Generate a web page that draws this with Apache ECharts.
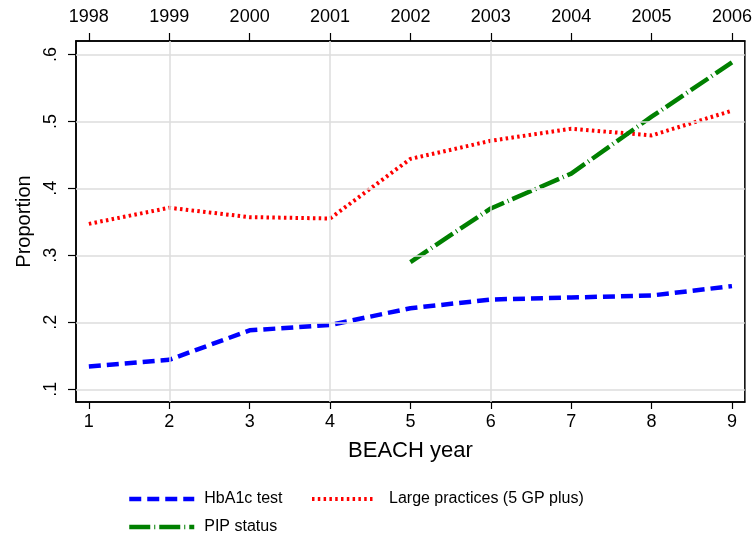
<!DOCTYPE html>
<html>
<head>
<meta charset="utf-8">
<script src="https://cdn.jsdelivr.net/npm/echarts@6/dist/echarts.min.js"></script>
<style>html,body{margin:0;padding:0;background:#fff;}#c{width:755px;height:539px;}</style>
</head>
<body>
<div id="c"></div>
<script>
const beachYear = [1, 2, 3, 4, 5, 6, 7, 8, 9];
const calendarYears = ['1998', '1999', '2000', '2001', '2002', '2003', '2004', '2005', '2006'];
const yTicks = [0.1, 0.2, 0.3, 0.4, 0.5, 0.6];
const xGridAt = [2, 4, 6];
const hba1c = [0.134, 0.144, 0.188, 0.196, 0.221, 0.234, 0.237, 0.240, 0.254];
const largePractices = [0.347, 0.371, 0.357, 0.355, 0.444, 0.471, 0.489, 0.479, 0.516];
const pipStatus = [null, null, null, null, 0.290, 0.370, 0.422, 0.507, 0.588];

const FONT = '"Liberation Sans", Arial, sans-serif';
const pairs = arr => beachYear.map((x, i) => [x, arr[i]]);
const yearLabel = v => calendarYears[beachYear.indexOf(Math.round(v))] || '';

function legendOf(name, left, top, w, color, width, type, gap) {
  return {
    data: [name], left: left, top: top, padding: 0, itemWidth: w, itemHeight: 20, itemGap: 0,
    itemStyle: {opacity: 0},
    lineStyle: {color: color, width: width, type: type, cap: 'butt'},
    textStyle: {fontFamily: FONT, fontSize: 16, color: '#000', padding: [0, 0, 0, gap]}
  };
}

const chart = echarts.init(document.getElementById('c'), null, {renderer: 'canvas'});
chart.setOption({
  backgroundColor: '#fff',
  animation: false,
  grid: {left: 76, right: 10, top: 41, bottom: 137, show: true, borderColor: '#000', borderWidth: 1.5, backgroundColor: '#fff'},
  xAxis: [{
    type: 'value', position: 'bottom', min: 0.84, max: 9.16,
    name: 'BEACH year', nameLocation: 'middle', nameGap: 38,
    nameTextStyle: {fontFamily: FONT, fontSize: 22, color: '#000', verticalAlign: 'top'},
    axisLine: {show: true, lineStyle: {color: '#000', width: 1.5}},
    axisTick: {show: true, inside: false, length: 7, customValues: beachYear, lineStyle: {color: '#000', width: 1.2}},
    axisLabel: {customValues: beachYear, margin: 11, fontFamily: FONT, fontSize: 18, color: '#000', formatter: v => String(v)},
    splitLine: {show: false}
  }, {
    type: 'value', position: 'top', min: 0.84, max: 9.16,
    axisLine: {show: true, lineStyle: {color: '#000', width: 1.5}},
    axisTick: {show: true, inside: false, length: 8, customValues: beachYear, lineStyle: {color: '#000', width: 1.2}},
    axisLabel: {customValues: beachYear, margin: 15, fontFamily: FONT, fontSize: 18, color: '#000', formatter: yearLabel},
    splitLine: {show: false}
  }],
  yAxis: {
    type: 'value', min: 0.081, max: 0.62,
    name: 'Proportion', nameLocation: 'middle', nameGap: 40, nameRotate: 90,
    nameTextStyle: {fontFamily: FONT, fontSize: 20, color: '#000'},
    axisLine: {show: true, lineStyle: {color: '#000', width: 1.5}},
    axisTick: {show: true, inside: false, length: 8, customValues: yTicks, lineStyle: {color: '#000', width: 1.2}},
    axisLabel: {customValues: yTicks, rotate: 90, margin: 16, fontFamily: FONT, fontSize: 18, color: '#000',
      formatter: v => v.toFixed(1).replace(/^0/, '')},
    splitLine: {show: false}
  },
  legend: [
    legendOf('HbA1c test', 127, 491, 65, '#0000ff', 4.5, [12, 6], 5),
    legendOf('Large practices (5 GP plus)', 310, 491, 63, '#ff0000', 4, [2.5, 3.3], 9),
    legendOf('PIP status', 127, 519, 65, '#008000', 4.5, [21, 4, 1, 4], 5)
  ],
  series: [{
    name: 'grid', type: 'line', data: [], silent: true, z: 1,
    markLine: {
      silent: true, symbol: ['none', 'none'], label: {show: false},
      lineStyle: {color: '#dcdcdc', width: 1.5, type: 'solid'},
      data: yTicks.map(v => ({yAxis: v})).concat(xGridAt.map(v => ({xAxis: v})))
    }
  }, {
    name: 'HbA1c test', type: 'line', data: pairs(hba1c), symbol: 'none', z: 3,
    itemStyle: {color: '#0000ff'},
    lineStyle: {color: '#0000ff', width: 4.5, type: [12, 6], cap: 'butt'}
  }, {
    name: 'Large practices (5 GP plus)', type: 'line', data: pairs(largePractices), symbol: 'none', z: 3,
    itemStyle: {color: '#ff0000'},
    lineStyle: {color: '#ff0000', width: 4, type: [2.5, 3.3], cap: 'butt'}
  }, {
    name: 'PIP status', type: 'line', data: pairs(pipStatus), symbol: 'none', z: 3, connectNulls: false,
    itemStyle: {color: '#008000'},
    lineStyle: {color: '#008000', width: 4.5, type: [21, 4, 1, 4], cap: 'butt'}
  }]
});
</script>
</body>
</html>
